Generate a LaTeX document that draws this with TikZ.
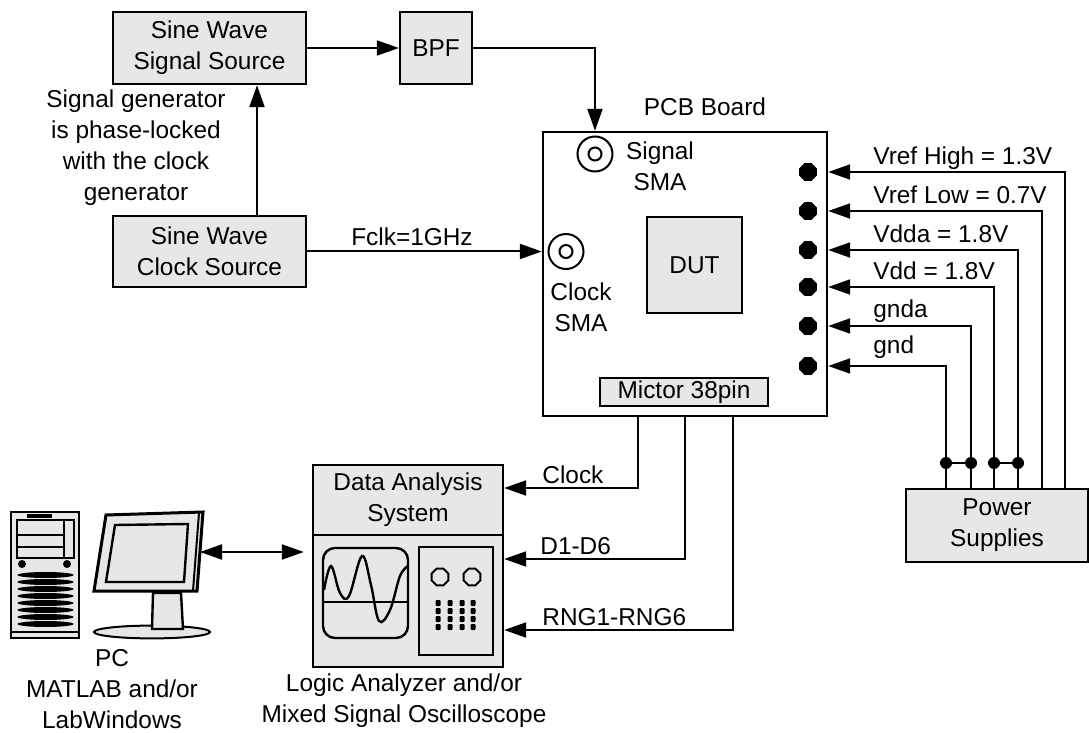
\documentclass[tikz,border=0pt]{standalone}
\usepackage{fontspec}
\setmainfont{Liberation Sans}
\usetikzlibrary{arrows.meta,shapes.geometric,positioning}
\definecolor{boxgray}{RGB}{230,231,232}

\begin{document}
\begin{tikzpicture}[x=0.5pt,y=-0.5pt,
    font=\fontsize{12.2}{15.5}\selectfont,
    blk/.style={rectangle,draw,line width=1.2pt,fill=boxgray,align=center,inner sep=0pt},
    txt/.style={align=center,inner sep=0pt},
    lbl/.style={anchor=base west,inner sep=0pt},
    pin/.style={regular polygon,regular polygon sides=8,fill=black,inner sep=0pt,minimum size=9.5pt},
    knob/.style={regular polygon,regular polygon sides=8,draw,line width=1pt,inner sep=0pt,minimum size=9pt},
    jn/.style={circle,fill=black,inner sep=0pt,minimum size=6pt},
    sma/.style={circle,draw,line width=1pt,minimum size=17.5pt,inner sep=0pt},
    ar/.style={-{Triangle[length=11pt,width=7.5pt]},line width=1pt},
    dar/.style={{Triangle[length=11pt,width=7.5pt]}-{Triangle[length=11pt,width=7.5pt]},line width=1pt},
    wire/.style={line width=1pt}
  ]
  \useasboundingbox (0,0) rectangle (1089,733);

  % sources
  \node[blk,minimum width=96.5pt,minimum height=36pt] (sigsrc) at (209.5,48) {Sine Wave\\Signal Source};
  \node[blk,minimum width=36pt,minimum height=36pt] (bpf) at (436,48) {BPF};
  \node[blk,minimum width=96.5pt,minimum height=35.5pt] (clksrc) at (209.5,251.5) {Sine Wave\\Clock Source};
  \node[txt] (lock) at (136,148) {Signal generator\\is phase-locked\\with the clock\\generator};

  % board
  \node[blk,fill=white,minimum width=142pt,minimum height=142pt] (pcb) at (685,274) {};
  \node[txt] (pcblbl) at (705,107) {PCB Board};
  \node[blk,minimum width=47.5pt,minimum height=48pt] (dut) at (694.5,265) {DUT};
  \node[blk,minimum width=84pt,minimum height=14pt] (mictor) at (684,392) {Mictor 38pin};
  \node[sma] (sigsma) at (595,154) {};
  \node[sma] (clksma) at (566,251.5) {};
  \draw[wire] (sigsma) circle (3.25pt) (clksma) circle (3.25pt);
  \node[txt] (sigsmalbl) at (660,166) {Signal\\SMA};
  \node[txt] (clksmalbl) at (581,307) {Clock\\SMA};

  \draw[ar] (sigsrc) -- (bpf);
  \draw[ar] (bpf.east) -| (sigsma |- pcb.north);
  \draw[ar] ([xshift=23.75pt]clksrc.north) -- ([xshift=23.75pt]sigsrc.south);
  \draw[ar] (clksrc.east) -- (clksrc.east -| pcb.west);
  \node[txt] (fclk) at (412,237) {Fclk=1GHz};

  % supplies
  \node[blk,minimum width=91pt,minimum height=36.5pt] (psu) at (997,525.5) {Power\\Supplies};
  \foreach \i/\yy/\xx/\by/\txt in {1/172/1065/165/{Vref High = 1.3V},2/211/1042/204/{Vref Low = 0.7V},
      3/250/1018/243/{Vdda = 1.8V},4/287/994/280/{Vdd = 1.8V},5/326/971/318/gnda,6/366/946/353/gnd}{
    \node[pin] (pin\i) at (808,\yy) {};
    \coordinate (rail\i) at (\xx,463);
    \draw[ar] (psu.north -| rail\i) |- (pcb.east |- pin\i);
    \node[lbl] (plbl\i) at (873,\by) {\txt};
  }
  \foreach \i in {3,...,6}
    \node[jn] (jn\i) at (rail\i) {};
  \draw[wire] (jn6) -- (jn5) (jn4) -- (jn3);

  % logic analyzer
  \node[blk,minimum width=95pt,minimum height=35pt] (das) at (408,500) {Data Analysis\\System};
  \node[blk,minimum width=95pt,minimum height=66pt] (scope) at (408,601) {};
  \node[txt] (scopelbl) at (404,701) {Logic Analyzer and/or\\Mixed Signal Oscilloscope};
  \draw[line width=1.2pt,rounded corners=6pt] (323,548) rectangle (408,638);
  \draw[line width=1.2pt] (323,602) -- (408,602);
  \draw[line width=1.2pt] plot[smooth,tension=0.6] coordinates {(324,590) (331,566) (340,593) (349,596)
      (362,556) (371,585) (379,621) (390,610) (400,576) (408,566)};
  \draw[line width=1.2pt] (419,547) rectangle (493,655);
  \foreach \xx [count=\k] in {440,472}
    \node[knob] (knob\k) at (\xx,577) {};
  \foreach \xx in {438,450,462,473}
    \foreach \yy in {603,611,619,627}
      \fill[rounded corners=0.5pt] (\xx-2.5,\yy-3) rectangle (\xx+2.5,\yy+3);

  \foreach \n/\xx/\yy/\tgt/\txt/\lx in {clk/638/488/das/Clock/542,dat/685/559/scope/D1-D6/540,
      rng/733/630/scope/RNG1-RNG6/542}{
    \coordinate (tap\n) at (\xx,\yy);
    \draw[ar] (pcb.south -| tap\n) |- (\tgt.east |- tap\n);
    \node[lbl] (lbl\n) at (\lx,\yy-5) {\txt};
  }

  % pc
  \fill[boxgray,draw=black,line width=1pt] (152,632) ellipse (29pt and 3.2pt);
  \draw[line width=1.2pt,fill=boxgray] (153,593) -- (181,593) -- (183,629) -- (152,629) -- cycle;
  \draw[line width=1.5pt,fill=boxgray] (106,515) -- (203,512) -- (197,591) -- (94,591) -- cycle;
  \draw[wire] (199,513) -- (193,591);
  \draw[line width=1.2pt] (115,525) -- (188,524) -- (184,582) -- (106,582) -- cycle;
  \coordinate (monitor) at (200,552);
  \draw[dar,shorten >=4pt] (monitor) -- (scope.west |- monitor);

  \draw[line width=1.2pt,fill=boxgray] (11,512) rectangle (79,638);
  \draw[wire] (17,520) rectangle (74,558) (17,535) -- (64,535) (17,547) -- (64,547) (64,520) -- (64,558);
  \fill (27,514) rectangle (52,518);
  \fill (22,564) circle (2pt) (67,564) circle (2pt);
  \foreach \yy in {575,582,...,624}
    \fill (45.5,\yy) ellipse (14pt and 1.5pt);
  \draw[wire] (11,632) -- (79,632);
  \node[txt] (pclbl) at (112,689) {PC\\MATLAB and/or\\LabWindows};
\end{tikzpicture}
\end{document}
